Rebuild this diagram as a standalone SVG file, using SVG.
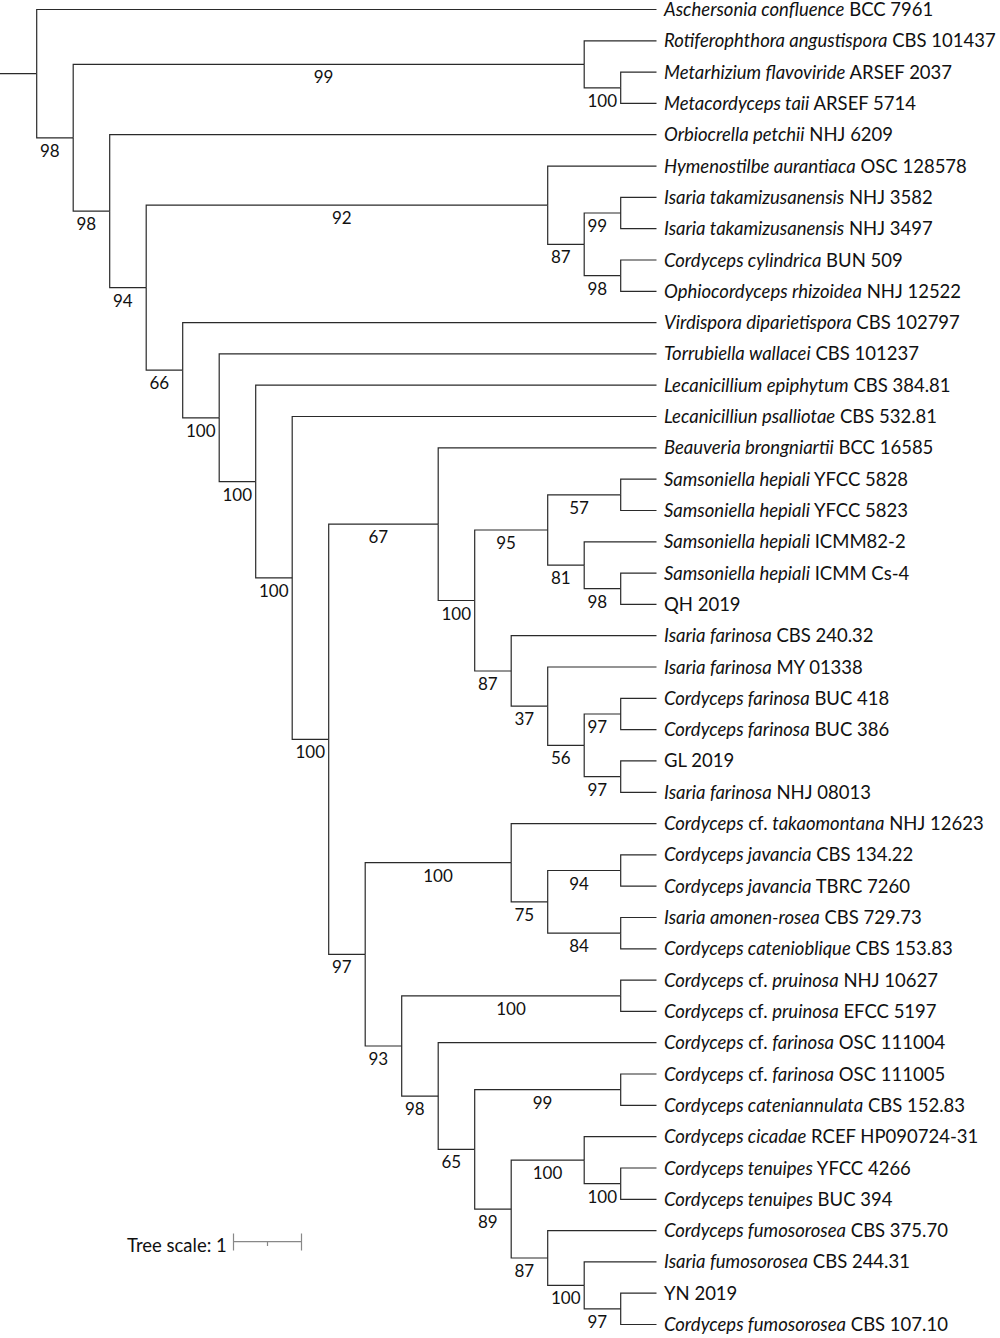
<svg xmlns="http://www.w3.org/2000/svg" width="1000" height="1338" viewBox="0 0 1000 1338">
<style>
text{font-family:Lato,"Liberation Sans",sans-serif;font-size:17px;fill:#111}
#leaves text,#scale text{font-size:18.5px}
.it{font-style:italic}
.br{fill:none;stroke:#2a2a2a;stroke-width:1.2}
.sc{fill:none;stroke:#888;stroke-width:1.2}
</style>
<rect width="1000" height="1338" fill="#fff"/>
<g id="connectors" class="br">
<path d="M0 73.6H36.7"/>
<path d="M36.7 73.6V9.5H656.5"/>
<path d="M36.7 73.6V137.8H73.2"/>
<path d="M73.2 137.8V64.3H584.2"/>
<path d="M73.2 137.8V211.2H109.7"/>
<path d="M584.2 64.3V40.8H656.5"/>
<path d="M584.2 64.3V87.8H620.7"/>
<path d="M620.7 87.8V72.1H656.5"/>
<path d="M620.7 87.8V103.4H656.5"/>
<path d="M109.7 211.2V134.7H656.5"/>
<path d="M109.7 211.2V287.7H146.2"/>
<path d="M146.2 287.7V205.2H547.7"/>
<path d="M146.2 287.7V370.2H182.7"/>
<path d="M547.7 205.2V166.1H656.5"/>
<path d="M547.7 205.2V244.3H584.2"/>
<path d="M584.2 244.3V213H620.7"/>
<path d="M584.2 244.3V275.6H620.7"/>
<path d="M620.7 213V197.4H656.5"/>
<path d="M620.7 213V228.7H656.5"/>
<path d="M620.7 275.6V260H656.5"/>
<path d="M620.7 275.6V291.3H656.5"/>
<path d="M182.7 370.2V322.6H656.5"/>
<path d="M182.7 370.2V417.8H219.2"/>
<path d="M219.2 417.8V353.9H656.5"/>
<path d="M219.2 417.8V481.6H255.7"/>
<path d="M255.7 481.6V385.2H656.5"/>
<path d="M255.7 481.6V577.9H292.2"/>
<path d="M292.2 577.9V416.5H656.5"/>
<path d="M292.2 577.9V739.3H328.7"/>
<path d="M328.7 739.3V524.2H438.2"/>
<path d="M328.7 739.3V954.4H365.2"/>
<path d="M438.2 524.2V447.8H656.5"/>
<path d="M438.2 524.2V600.5H474.7"/>
<path d="M474.7 600.5V530H547.7"/>
<path d="M474.7 600.5V671H511.2"/>
<path d="M547.7 530V494.8H620.7"/>
<path d="M547.7 530V565.2H584.2"/>
<path d="M620.7 494.8V479.2H656.5"/>
<path d="M620.7 494.8V510.5H656.5"/>
<path d="M584.2 565.2V541.8H656.5"/>
<path d="M584.2 565.2V588.7H620.7"/>
<path d="M620.7 588.7V573.1H656.5"/>
<path d="M620.7 588.7V604.4H656.5"/>
<path d="M511.2 671V635.7H656.5"/>
<path d="M511.2 671V706.2H547.7"/>
<path d="M547.7 706.2V667H656.5"/>
<path d="M547.7 706.2V745.3H584.2"/>
<path d="M584.2 745.3V714H620.7"/>
<path d="M584.2 745.3V776.6H620.7"/>
<path d="M620.7 714V698.3H656.5"/>
<path d="M620.7 714V729.6H656.5"/>
<path d="M620.7 776.6V760.9H656.5"/>
<path d="M620.7 776.6V792.3H656.5"/>
<path d="M365.2 954.4V862.7H511.2"/>
<path d="M365.2 954.4V1046H401.7"/>
<path d="M511.2 862.7V823.6H656.5"/>
<path d="M511.2 862.7V901.9H547.7"/>
<path d="M547.7 901.9V870.5H620.7"/>
<path d="M547.7 901.9V933.2H620.7"/>
<path d="M620.7 870.5V854.9H656.5"/>
<path d="M620.7 870.5V886.2H656.5"/>
<path d="M620.7 933.2V917.5H656.5"/>
<path d="M620.7 933.2V948.8H656.5"/>
<path d="M401.7 1046V995.8H620.7"/>
<path d="M401.7 1046V1096.1H438.2"/>
<path d="M620.7 995.8V980.1H656.5"/>
<path d="M620.7 995.8V1011.4H656.5"/>
<path d="M438.2 1096.1V1042.7H656.5"/>
<path d="M438.2 1096.1V1149.4H474.7"/>
<path d="M474.7 1149.4V1089.7H620.7"/>
<path d="M474.7 1149.4V1209.1H511.2"/>
<path d="M620.7 1089.7V1074H656.5"/>
<path d="M620.7 1089.7V1105.4H656.5"/>
<path d="M511.2 1209.1V1160.2H584.2"/>
<path d="M511.2 1209.1V1258H547.7"/>
<path d="M584.2 1160.2V1136.7H656.5"/>
<path d="M584.2 1160.2V1183.6H620.7"/>
<path d="M620.7 1183.6V1168H656.5"/>
<path d="M620.7 1183.6V1199.3H656.5"/>
<path d="M547.7 1258V1230.6H656.5"/>
<path d="M547.7 1258V1285.4H584.2"/>
<path d="M584.2 1285.4V1261.9H656.5"/>
<path d="M584.2 1285.4V1308.9H620.7"/>
<path d="M620.7 1308.9V1293.2H656.5"/>
<path d="M620.7 1308.9V1324.5H656.5"/>
</g>
<g id="support">
<g id="nA"><text x="40" y="156.8">98</text></g>
<g id="nB"><text x="313.7" y="83.3">99</text></g>
<g id="nB2"><text x="587.5" y="106.8">100</text></g>
<g id="nC"><text x="76.5" y="230.2">98</text></g>
<g id="nD"><text x="113" y="306.7">94</text></g>
<g id="nE"><text x="332" y="224.2">92</text></g>
<g id="nE2"><text x="551" y="263.3">87</text></g>
<g id="nE3"><text x="587.5" y="232">99</text></g>
<g id="nE4"><text x="587.5" y="294.6">98</text></g>
<g id="nF"><text x="149.5" y="389.2">66</text></g>
<g id="nG"><text x="186" y="436.8">100</text></g>
<g id="nH"><text x="222.5" y="500.6">100</text></g>
<g id="nI"><text x="259" y="596.9">100</text></g>
<g id="nJ"><text x="295.5" y="758.3">100</text></g>
<g id="nK"><text x="368.5" y="543.2">67</text></g>
<g id="nM"><text x="441.5" y="619.5">100</text></g>
<g id="nN"><text x="496.2" y="549">95</text></g>
<g id="nN1"><text x="569.2" y="513.8">57</text></g>
<g id="nN2"><text x="551" y="584.2">81</text></g>
<g id="nN3"><text x="587.5" y="607.7">98</text></g>
<g id="nO"><text x="478" y="690">87</text></g>
<g id="nP"><text x="514.5" y="725.2">37</text></g>
<g id="nQ"><text x="551" y="764.3">56</text></g>
<g id="nQ1"><text x="587.5" y="733">97</text></g>
<g id="nQ2"><text x="587.5" y="795.6">97</text></g>
<g id="nL"><text x="332" y="973.4">97</text></g>
<g id="nR"><text x="423.2" y="881.7">100</text></g>
<g id="nT"><text x="514.5" y="920.9">75</text></g>
<g id="nT1"><text x="569.2" y="889.5">94</text></g>
<g id="nT2"><text x="569.2" y="952.2">84</text></g>
<g id="nS"><text x="368.5" y="1065">93</text></g>
<g id="nU"><text x="496.2" y="1014.8">100</text></g>
<g id="nV"><text x="405" y="1115.1">98</text></g>
<g id="nW"><text x="441.5" y="1168.4">65</text></g>
<g id="nW1"><text x="532.7" y="1108.7">99</text></g>
<g id="nX"><text x="478" y="1228.1">89</text></g>
<g id="nY"><text x="532.7" y="1179.2">100</text></g>
<g id="nY1"><text x="587.5" y="1202.6">100</text></g>
<g id="nZ"><text x="514.5" y="1277">87</text></g>
<g id="nZ1"><text x="551" y="1304.4">100</text></g>
<g id="nZ2"><text x="587.5" y="1327.9">97</text></g>
</g>
<g id="leaves">
<g id="leaf0"><text x="664" y="16"><tspan class="it">Aschersonia confluence</tspan> BCC 7961</text></g>
<g id="leaf1"><text x="664" y="47.3"><tspan class="it">Rotiferophthora angustispora</tspan> CBS 101437</text></g>
<g id="leaf2"><text x="664" y="78.6"><tspan class="it">Metarhizium flavoviride</tspan> ARSEF 2037</text></g>
<g id="leaf3"><text x="664" y="109.9"><tspan class="it">Metacordyceps taii</tspan> ARSEF 5714</text></g>
<g id="leaf4"><text x="664" y="141.2"><tspan class="it">Orbiocrella petchii</tspan> NHJ 6209</text></g>
<g id="leaf5"><text x="664" y="172.6"><tspan class="it">Hymenostilbe aurantiaca</tspan> OSC 128578</text></g>
<g id="leaf6"><text x="664" y="203.9"><tspan class="it">Isaria takamizusanensis</tspan> NHJ 3582</text></g>
<g id="leaf7"><text x="664" y="235.2"><tspan class="it">Isaria takamizusanensis</tspan> NHJ 3497</text></g>
<g id="leaf8"><text x="664" y="266.5"><tspan class="it">Cordyceps cylindrica</tspan> BUN 509</text></g>
<g id="leaf9"><text x="664" y="297.8"><tspan class="it">Ophiocordyceps rhizoidea</tspan> NHJ 12522</text></g>
<g id="leaf10"><text x="664" y="329.1"><tspan class="it">Virdispora diparietispora</tspan> CBS 102797</text></g>
<g id="leaf11"><text x="664" y="360.4"><tspan class="it">Torrubiella wallacei</tspan> CBS 101237</text></g>
<g id="leaf12"><text x="664" y="391.7"><tspan class="it">Lecanicillium epiphytum</tspan> CBS 384.81</text></g>
<g id="leaf13"><text x="664" y="423"><tspan class="it">Lecanicilliun psalliotae</tspan> CBS 532.81</text></g>
<g id="leaf14"><text x="664" y="454.3"><tspan class="it">Beauveria brongniartii</tspan> BCC 16585</text></g>
<g id="leaf15"><text x="664" y="485.7"><tspan class="it">Samsoniella hepiali</tspan> YFCC 5828</text></g>
<g id="leaf16"><text x="664" y="517"><tspan class="it">Samsoniella hepiali</tspan> YFCC 5823</text></g>
<g id="leaf17"><text x="664" y="548.3"><tspan class="it">Samsoniella hepiali</tspan> ICMM82-2</text></g>
<g id="leaf18"><text x="664" y="579.6"><tspan class="it">Samsoniella hepiali</tspan> ICMM Cs-4</text></g>
<g id="leaf19"><text x="664" y="610.9">QH 2019</text></g>
<g id="leaf20"><text x="664" y="642.2"><tspan class="it">Isaria farinosa</tspan> CBS 240.32</text></g>
<g id="leaf21"><text x="664" y="673.5"><tspan class="it">Isaria farinosa</tspan> MY 01338</text></g>
<g id="leaf22"><text x="664" y="704.8"><tspan class="it">Cordyceps farinosa</tspan> BUC 418</text></g>
<g id="leaf23"><text x="664" y="736.1"><tspan class="it">Cordyceps farinosa</tspan> BUC 386</text></g>
<g id="leaf24"><text x="664" y="767.4">GL 2019</text></g>
<g id="leaf25"><text x="664" y="798.8"><tspan class="it">Isaria farinosa</tspan> NHJ 08013</text></g>
<g id="leaf26"><text x="664" y="830.1"><tspan class="it">Cordyceps</tspan> cf. <tspan class="it">takaomontana</tspan> NHJ 12623</text></g>
<g id="leaf27"><text x="664" y="861.4"><tspan class="it">Cordyceps javancia</tspan> CBS 134.22</text></g>
<g id="leaf28"><text x="664" y="892.7"><tspan class="it">Cordyceps javancia</tspan> TBRC 7260</text></g>
<g id="leaf29"><text x="664" y="924"><tspan class="it">Isaria amonen-rosea</tspan> CBS 729.73</text></g>
<g id="leaf30"><text x="664" y="955.3"><tspan class="it">Cordyceps catenioblique</tspan> CBS 153.83</text></g>
<g id="leaf31"><text x="664" y="986.6"><tspan class="it">Cordyceps</tspan> cf. <tspan class="it">pruinosa</tspan> NHJ 10627</text></g>
<g id="leaf32"><text x="664" y="1017.9"><tspan class="it">Cordyceps</tspan> cf. <tspan class="it">pruinosa</tspan> EFCC 5197</text></g>
<g id="leaf33"><text x="664" y="1049.2"><tspan class="it">Cordyceps</tspan> cf. <tspan class="it">farinosa</tspan> OSC 111004</text></g>
<g id="leaf34"><text x="664" y="1080.5"><tspan class="it">Cordyceps</tspan> cf. <tspan class="it">farinosa</tspan> OSC 111005</text></g>
<g id="leaf35"><text x="664" y="1111.9"><tspan class="it">Cordyceps cateniannulata</tspan> CBS 152.83</text></g>
<g id="leaf36"><text x="664" y="1143.2"><tspan class="it">Cordyceps cicadae</tspan> RCEF HP090724-31</text></g>
<g id="leaf37"><text x="664" y="1174.5"><tspan class="it">Cordyceps tenuipes</tspan> YFCC 4266</text></g>
<g id="leaf38"><text x="664" y="1205.8"><tspan class="it">Cordyceps tenuipes</tspan> BUC 394</text></g>
<g id="leaf39"><text x="664" y="1237.1"><tspan class="it">Cordyceps fumosorosea</tspan> CBS 375.70</text></g>
<g id="leaf40"><text x="664" y="1268.4"><tspan class="it">Isaria fumosorosea</tspan> CBS 244.31</text></g>
<g id="leaf41"><text x="664" y="1299.7">YN 2019</text></g>
<g id="leaf42"><text x="664" y="1331"><tspan class="it">Cordyceps fumosorosea</tspan> CBS 107.10</text></g>
</g>
<g id="scale">
<text x="127" y="1251.5">Tree scale: 1</text>
<path class="sc" d="M233.5 1233.5V1250.5M301.5 1233.5V1250.5M233.5 1241.7H301.5M267.5 1241.7V1246"/>
</g>
</svg>
